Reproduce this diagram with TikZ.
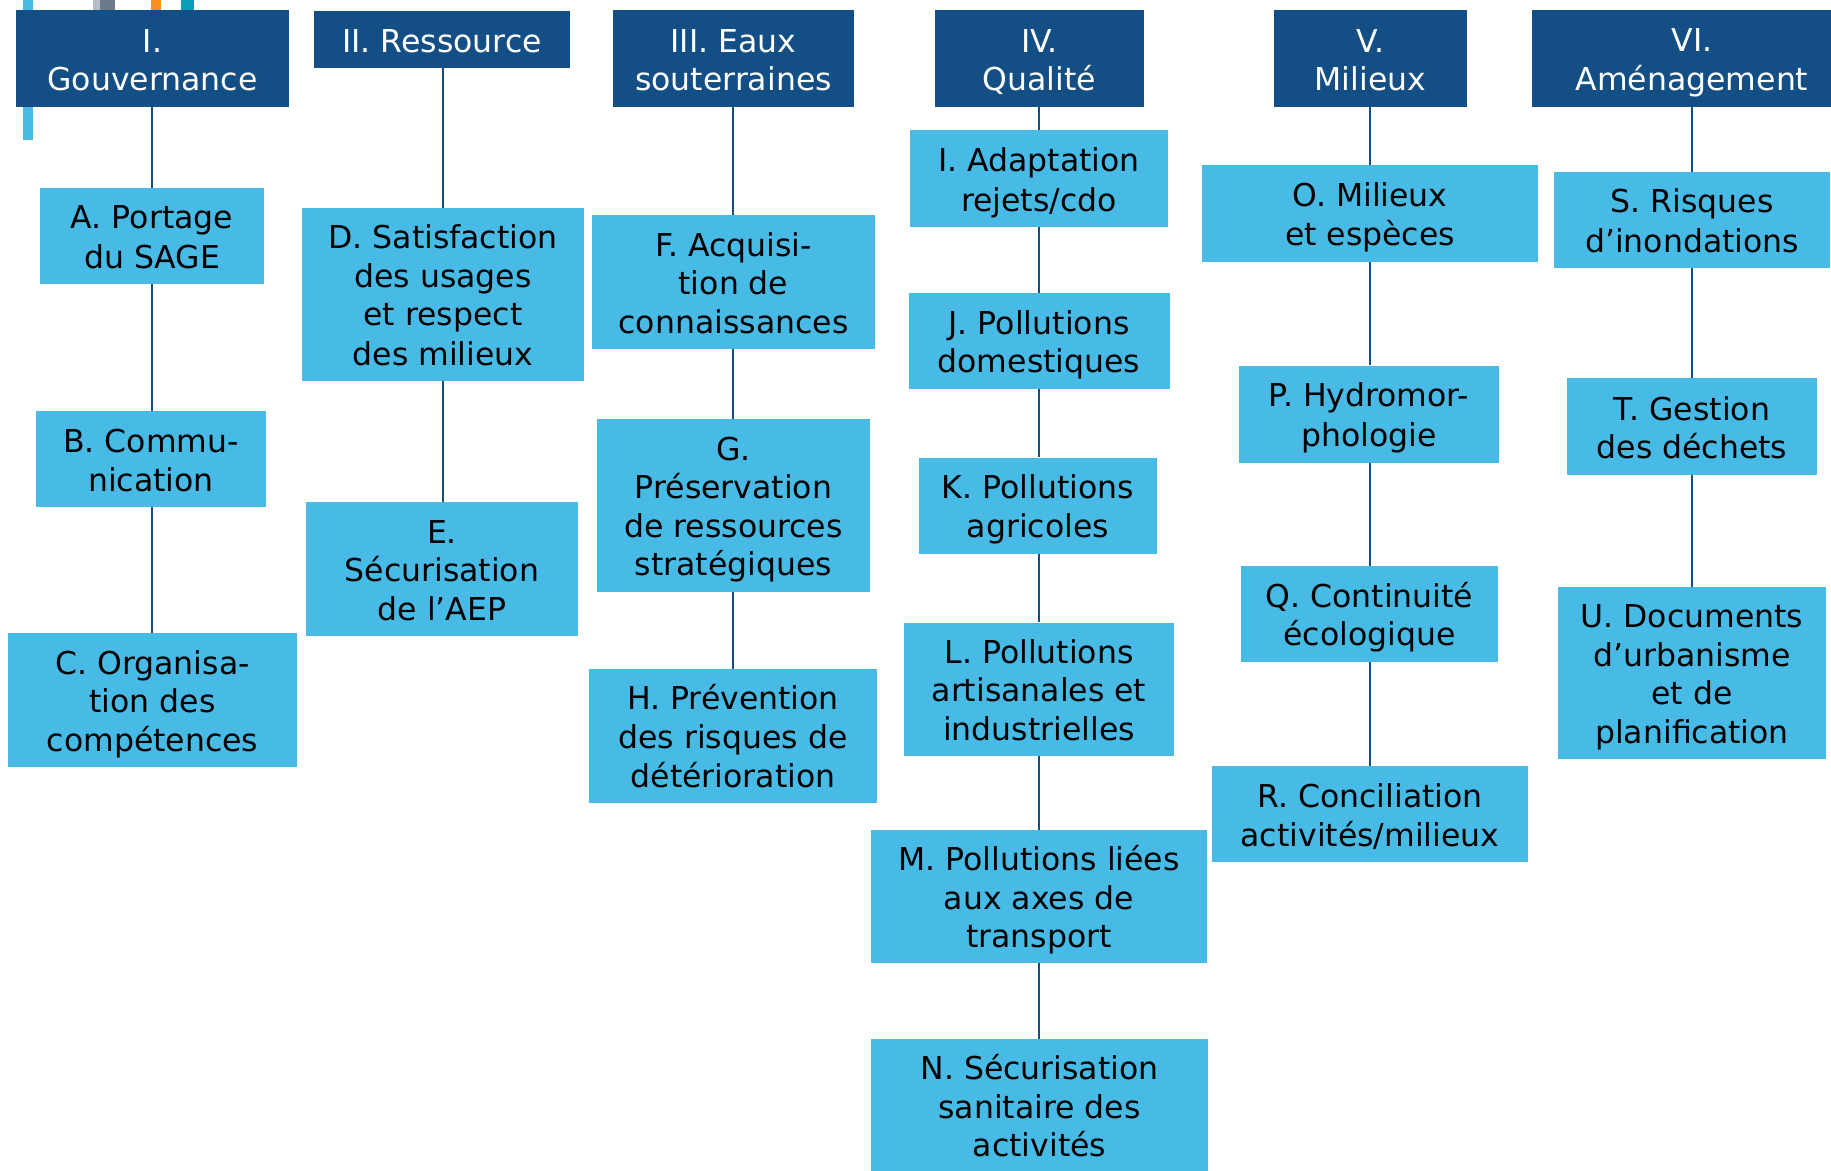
\documentclass[tikz,border=0pt]{standalone}
\usepackage{fontspec}
\setmainfont{DejaVu Sans}
\definecolor{dkblue}{HTML}{134E84}
\definecolor{ltblue}{HTML}{47BBE5}
\definecolor{greyA}{HTML}{B4BEC6}
\definecolor{greyB}{HTML}{6B7A8C}
\definecolor{orangeA}{HTML}{F7901E}
\definecolor{tealA}{HTML}{0A9DB5}
\newcommand\mystrut{\rule[-6.5pt]{0pt}{38.5pt}}
\newcommand\lbl[1]{\mystrut#1\mystrut}
\tikzset{
  basebox/.style={inner sep=0pt, align=center, font=\fontsize{31.5}{38.5}\selectfont},
  hd/.style={basebox, fill=dkblue, text=white},
  lb/.style={basebox, fill=ltblue, text=black},
  conn/.style={draw=dkblue, line width=1.8pt},
}
\begin{document}
\begin{tikzpicture}[x=1pt,y=-1pt]
\useasboundingbox (0,0) rectangle (1831,1170);
\clip (0,0) rectangle (1831,1170);
% decorative bars
\fill[ltblue] (23,0) rectangle (33,140);
\fill[greyA] (93,0) rectangle (100,12);
\fill[greyB] (100,0) rectangle (115,12);
\fill[orangeA] (151,0) rectangle (161,12);
\fill[tealA] (181,0) rectangle (194,12);
% headers
\node[hd, minimum width=273pt, minimum height=97pt] (h1) at (152.5,58.5) {\lbl{I.\\Gouvernance}};
\node[hd, minimum width=256pt, minimum height=57pt] (h2) at (442,39.5) {\lbl{II. Ressource}};
\node[hd, minimum width=241pt, minimum height=97pt] (h3) at (733.5,58.5) {\lbl{III. Eaux\\souterraines}};
\node[hd, minimum width=209pt, minimum height=97pt] (h4) at (1039.5,58.5) {\lbl{IV.\\Qualité}};
\node[hd, minimum width=193pt, minimum height=97pt] (h5) at (1370.5,58.5) {\lbl{V.\\Milieux}};
\node[hd, minimum width=320pt, minimum height=97pt] (h6) at (1692,58.5) {\lbl{VI.\\Aménagement}};
% column 1
\node[lb, minimum width=224pt, minimum height=96pt] (A) at (152,236) {\lbl{A. Portage\\du SAGE}};
\node[lb, minimum width=230pt, minimum height=96pt] (B) at (151,459) {\lbl{B. Commu-\\nication}};
\node[lb, minimum width=289pt, minimum height=134pt] (C) at (152.5,700) {\lbl{C. Organisa-\\tion des\\compétences}};
% column 2
\node[lb, minimum width=282pt, minimum height=173pt] (D) at (443,294.5) {\lbl{D. Satisfaction\\des usages\\et respect\\des milieux}};
\node[lb, minimum width=272pt, minimum height=134pt] (E) at (442,569) {\lbl{E.\\Sécurisation\\de l’AEP}};
% column 3
\node[lb, minimum width=283pt, minimum height=134pt] (F) at (733.5,282) {\lbl{F. Acquisi-\\tion de\\connaissances}};
\node[lb, minimum width=273pt, minimum height=173pt] (G) at (733.5,505.5) {\lbl{G.\\Préservation\\de ressources\\stratégiques}};
\node[lb, minimum width=288pt, minimum height=134pt] (H) at (733,736) {\lbl{H. Prévention\\des risques de\\détérioration}};
% column 4
\node[lb, minimum width=258pt, minimum height=97pt] (I) at (1039,178.5) {\lbl{I. Adaptation\\rejets/cdo}};
\node[lb, minimum width=261pt, minimum height=96pt] (J) at (1039,341) {\lbl{J. Pollutions\\domestiques}};
\node[lb, minimum width=238pt, minimum height=96pt] (K) at (1038,505.5) {\lbl{K. Pollutions\\agricoles}};
\node[lb, minimum width=270pt, minimum height=133pt] (L) at (1039,689) {\lbl{L. Pollutions\\artisanales et\\industrielles}};
\node[lb, minimum width=336pt, minimum height=133pt] (M) at (1039,896.7) {\lbl{M. Pollutions liées\\aux axes de\\transport}};
\node[lb, minimum width=337pt, minimum height=133pt] (N) at (1039.5,1105.5) {\lbl{N. Sécurisation\\sanitaire des\\activités}};
% column 5
\node[lb, minimum width=336pt, minimum height=97pt] (O) at (1370,213.5) {\lbl{O. Milieux\\et espèces}};
\node[lb, minimum width=260pt, minimum height=97pt] (P) at (1369,414) {\lbl{P. Hydromor-\\phologie}};
\node[lb, minimum width=257pt, minimum height=96pt] (Q) at (1369.5,614) {\lbl{Q. Continuité\\écologique}};
\node[lb, minimum width=316pt, minimum height=96pt] (R) at (1370,814) {\lbl{R. Conciliation\\activités/milieux}};
% column 6
\node[lb, minimum width=276pt, minimum height=96pt] (S) at (1692,220) {\lbl{S. Risques\\d’inondations}};
\node[lb, minimum width=250pt, minimum height=97pt] (T) at (1692,426.5) {\lbl{T. Gestion\\des déchets}};
\node[lb, minimum width=268pt, minimum height=172pt] (U) at (1692,673) {\lbl{U. Documents\\d’urbanisme\\et de\\planification}};
% connectors
\coordinate (x1) at (152,0);
\coordinate (x2) at (443,0);
\coordinate (x3) at (733,0);
\coordinate (x4) at (1039,0);
\coordinate (x5) at (1370,0);
\coordinate (x6) at (1692,0);
\draw[conn] (x1 |- h1.south) -- (x1 |- A.north);
\draw[conn] (x1 |- A.south) -- (x1 |- B.north);
\draw[conn] (x1 |- B.south) -- (x1 |- C.north);
\draw[conn] (x2 |- h2.south) -- (x2 |- D.north);
\draw[conn] (x2 |- D.south) -- (x2 |- E.north);
\draw[conn] (x3 |- h3.south) -- (x3 |- F.north);
\draw[conn] (x3 |- F.south) -- (x3 |- G.north);
\draw[conn] (x3 |- G.south) -- (x3 |- H.north);
\draw[conn] (x4 |- h4.south) -- (x4 |- I.north);
\draw[conn] (x4 |- I.south) -- (x4 |- J.north);
\draw[conn] (x4 |- J.south) -- (x4 |- K.north);
\draw[conn] (x4 |- K.south) -- (x4 |- L.north);
\draw[conn] (x4 |- L.south) -- (x4 |- M.north);
\draw[conn] (x4 |- M.south) -- (x4 |- N.north);
\draw[conn] (x5 |- h5.south) -- (x5 |- O.north);
\draw[conn] (x5 |- O.south) -- (x5 |- P.north);
\draw[conn] (x5 |- P.south) -- (x5 |- Q.north);
\draw[conn] (x5 |- Q.south) -- (x5 |- R.north);
\draw[conn] (x6 |- h6.south) -- (x6 |- S.north);
\draw[conn] (x6 |- S.south) -- (x6 |- T.north);
\draw[conn] (x6 |- T.south) -- (x6 |- U.north);
\end{tikzpicture}
\end{document}
